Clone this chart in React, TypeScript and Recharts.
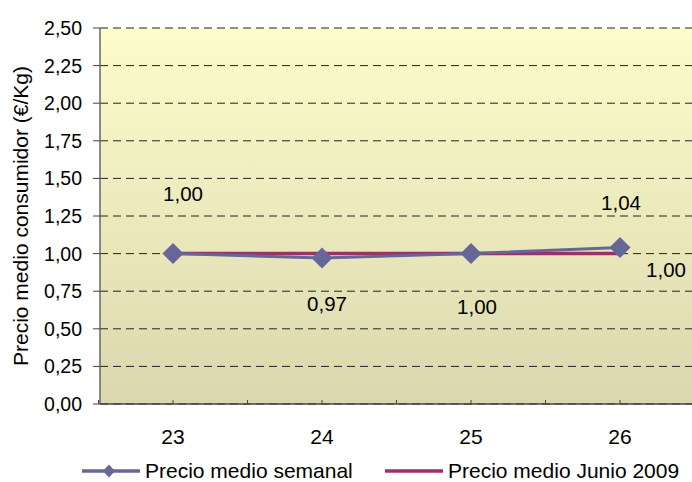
import React from "react";
import {
  LineChart,
  Line,
  XAxis,
  YAxis,
  CartesianGrid,
  LabelList,
} from "recharts";

const weeks = ["23", "24", "25", "26"];
const semanal = [1.0, 0.97, 1.0, 1.04];
const junio = [1.0, 1.0, 1.0, 1.0];
const yTicks = [0, 0.25, 0.5, 0.75, 1, 1.25, 1.5, 1.75, 2, 2.25, 2.5];
const seriesNames = ["Precio medio semanal", "Precio medio Junio 2009"];

const data = weeks.map((w, i) => ({ week: w, semanal: semanal[i], junio: junio[i] }));

const FONT = '"Liberation Sans", Arial, sans-serif';
const PURPLE = "#666699";
const MAROON = "#993366";

// label placement relative to point (text centre)
const semanalOffsets = [
  [10, -60],
  [5, 45],
  [6, 53],
  [1, -45],
];
const junioOffsets: Record<number, number[]> = { 3: [46, 16] };

const fmt = (v: number) => v.toFixed(2).replace(".", ",");

const HALF = 74.5;

const XTick = (props: any) => {
  const { x, y, payload, index } = props;
  const last = index === weeks.length - 1;
  return (
    <g>
      <line x1={x} y1={y} x2={x} y2={y - 4} stroke="#444" />
      <line x1={x - HALF} y1={y} x2={x - HALF} y2={y - 4} stroke="#444" />
      {last && <line x1={x + HALF} y1={y} x2={x + HALF} y2={y - 4} stroke="#444" />}
      <text
        x={x}
        y={y + 32}
        textAnchor="middle"
        dominantBaseline="central"
        fontFamily={FONT}
        fontSize={21}
        fill="#000"
      >
        {payload.value}
      </text>
    </g>
  );
};

const Diamond = (props: any) => {
  const { cx, cy } = props;
  if (cx == null || cy == null) return null;
  const r = 10.5;
  return (
    <polygon
      points={`${cx},${cy - r} ${cx + r},${cy} ${cx},${cy + r} ${cx - r},${cy}`}
      fill={PURPLE}
      stroke="none"
    />
  );
};

const makeLabel = (offsets: Record<number, number[]> | number[][]) => (props: any) => {
  const { x, y, value, index } = props;
  const off = (offsets as any)[index];
  if (!off) return null;
  return (
    <text
      x={x + off[0]}
      y={y + off[1]}
      textAnchor="middle"
      dominantBaseline="central"
      fontFamily={FONT}
      fontSize={20.5}
      fill="#000"
    >
      {fmt(value)}
    </text>
  );
};

const YLabel = (props: any) => {
  const { viewBox } = props;
  const cx = 20;
  const cy = viewBox.y + viewBox.height / 2;
  return (
    <text
      x={cx}
      y={cy}
      transform={`rotate(-90 ${cx} ${cy})`}
      textAnchor="middle"
      dominantBaseline="central"
      fontFamily={FONT}
      fontSize={21}
      fill="#000"
    >
      Precio medio consumidor (€/Kg)
    </text>
  );
};

const LegendBox = () => {
  const item = (left: number, label: string, color: string, marker: boolean) => (
    <div
      key={label}
      style={{ position: "absolute", left, top: 0, height: 22, display: "flex", alignItems: "center" }}
    >
      <svg width={58} height={20}>
        <line x1={0} y1={10} x2={58} y2={10} stroke={color} strokeWidth={3.5} />
        {marker && <polygon points="27,3.5 33,10 27,16.5 21,10" fill={color} />}
      </svg>
      <span
        style={{
          marginLeft: 5,
          fontFamily: FONT,
          fontSize: 21,
          color: "#000",
          whiteSpace: "nowrap",
          lineHeight: "22px",
        }}
      >
        {label}
      </span>
    </div>
  );
  return (
    <div style={{ position: "absolute", left: 0, top: 460, width: 692, height: 22 }}>
      {item(82, seriesNames[0], PURPLE, true)}
      {item(385, seriesNames[1], MAROON, false)}
    </div>
  );
};

export default function App() {
  return (
    <div style={{ position: "absolute", left: 0, top: 0, width: 692, height: 482, background: "#fff" }}>
      <LineChart
        width={692}
        height={482}
        data={data}
        margin={{ top: 28, right: 0, left: 30, bottom: 48 }}
      >
        <defs>
          <linearGradient id="plotBg" x1="0" y1="0" x2="0" y2="1">
            <stop offset="0%" stopColor="#FDFDCB" />
            <stop offset="100%" stopColor="#DAD7AE" />
          </linearGradient>
        </defs>
        <CartesianGrid
          horizontal
          vertical={false}
          fill="url(#plotBg)"
          fillOpacity={1}
          stroke="#222"
          strokeDasharray="8 5"
        />
        <XAxis
          dataKey="week"
          height={30}
          padding={{ left: 73, right: 72 }}
          axisLine={{ stroke: "#444", strokeWidth: 1.5 }}
          tickLine={false}
          tickSize={0}
          tickMargin={0}
          tick={<XTick />}
          interval={0}
        />
        <YAxis
          width={70}
          domain={[0, 2.5]}
          ticks={yTicks}
          interval={0}
          tickFormatter={fmt}
          axisLine={{ stroke: "#666", strokeWidth: 1.5 }}
          tickLine={{ stroke: "#444" }}
          tickSize={7}
          tickMargin={11}
          tick={{ fontFamily: FONT, fontSize: 19.5, fill: "#000" }}
          label={<YLabel />}
        />
        <Line
          dataKey="junio"
          name={seriesNames[1]}
          stroke={MAROON}
          strokeWidth={3.5}
          dot={false}
          activeDot={false}
          isAnimationActive={false}
        >
          <LabelList dataKey="junio" content={makeLabel(junioOffsets)} />
        </Line>
        <Line
          dataKey="semanal"
          name={seriesNames[0]}
          stroke={PURPLE}
          strokeWidth={3}
          dot={<Diamond />}
          activeDot={false}
          isAnimationActive={false}
        >
          <LabelList dataKey="semanal" content={makeLabel(semanalOffsets)} />
        </Line>
      </LineChart>
      <LegendBox />
    </div>
  );
}
